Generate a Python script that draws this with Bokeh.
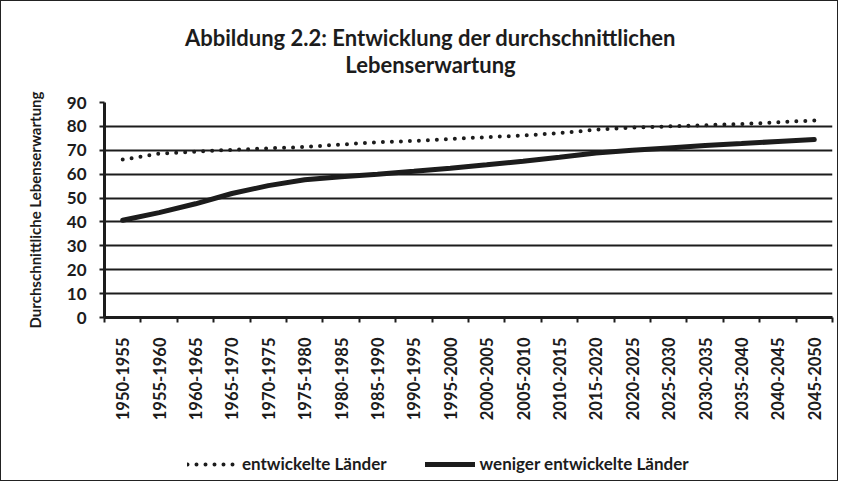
import math
from bokeh.plotting import figure
from bokeh.layouts import column
from bokeh.models import (FactorRange, Range1d, LinearAxis, FixedTicker, Label,
                          Legend, LegendItem, ColumnDataSource, CustomJSTickFormatter)
from bokeh.embed import file_html
from bokeh.resources import INLINE

categories = ["1950-1955", "1955-1960", "1960-1965", "1965-1970", "1970-1975",
              "1975-1980", "1980-1985", "1985-1990", "1990-1995", "1995-2000",
              "2000-2005", "2005-2010", "2010-2015", "2015-2020", "2020-2025",
              "2025-2030", "2030-2035", "2035-2040", "2040-2045", "2045-2050"]
entwickelt = [66.1, 68.6, 69.4, 70.2, 70.8, 71.4, 72.4, 73.4, 73.9, 74.7,
              75.5, 76.2, 77.2, 78.6, 79.5, 80.0, 80.5, 81.0, 81.7, 82.5]
weniger = [40.7, 43.9, 47.6, 51.9, 55.2, 57.7, 58.9, 60.0, 61.2, 62.5,
           63.9, 65.4, 67.1, 68.9, 70.0, 71.0, 72.0, 72.8, 73.7, 74.5]
y_ticks = [0, 10, 20, 30, 40, 50, 60, 70, 80, 90]
title_lines = ["Abbildung 2.2: Entwicklung der durchschnittlichen", "Lebenserwartung"]
y_title = "Durchschnittliche Lebenserwartung"
series_names = ["entwickelte Länder", "weniger entwickelte Länder"]

FONT = "Lato"
INK = "#1c1c1c"
W = 836

n = len(categories)
src = ColumnDataSource(dict(cat=categories, a=entwickelt, b=weniger))


def strip(height, x_range, y_range):
    f = figure(width=W, height=height, x_range=x_range, y_range=y_range,
               output_backend="svg", toolbar_location=None,
               x_axis_location=None, y_axis_location=None,
               min_border_left=0, min_border_right=0, min_border_top=0, min_border_bottom=0)
    f.outline_line_color = None
    f.xgrid.visible = False
    f.ygrid.visible = False
    return f


# ---- title strip (frame is aligned with the chart frame, which starts 103px in) ----
head = strip(80, Range1d(0, 1), Range1d(0, 1))
for txt, yy in zip(title_lines, [44, 17]):
    head.add_layout(Label(x=326, y=yy, x_units="screen", y_units="screen", text=txt,
                          text_align="center", text_baseline="middle",
                          text_font=FONT, text_font_style="bold", text_font_size="22px",
                          text_color=INK))

# ---- main chart ----
p = figure(width=W, height=350, x_range=FactorRange(*categories, range_padding=0),
           y_range=Range1d(0, 90), output_backend="svg", toolbar_location=None,
           x_axis_location=None, y_axis_location=None,
           min_border_left=103, min_border_right=5, min_border_top=21, min_border_bottom=114)
p.outline_line_color = None

x_ticker = FixedTicker(ticks=[i + 0.5 for i in range(n)], minor_ticks=list(range(n + 1)))
x_axis = LinearAxis(ticker=x_ticker,
                    formatter=CustomJSTickFormatter(args=dict(labels=categories),
                                                    code="return labels[Math.floor(tick)]"),
                    major_tick_out=0, major_tick_in=0,
                    minor_tick_out=5, minor_tick_in=0,
                    minor_tick_line_width=2, minor_tick_line_color=INK,
                    axis_line_width=3, axis_line_color=INK,
                    major_label_orientation=math.pi / 2,
                    major_label_standoff=15,
                    major_label_text_font=FONT, major_label_text_font_style="bold",
                    major_label_text_font_size="16.5px", major_label_text_color=INK)
p.add_layout(x_axis, "below")

y_axis = LinearAxis(ticker=FixedTicker(ticks=y_ticks),
                    axis_line_width=3, axis_line_color=INK,
                    major_tick_out=5, major_tick_in=0, major_tick_line_width=2,
                    major_tick_line_color=INK, minor_tick_line_color=None,
                    major_label_standoff=13,
                    major_label_text_font=FONT, major_label_text_font_style="bold",
                    major_label_text_font_size="17px", major_label_text_color=INK,
                    axis_label=y_title, axis_label_standoff=20,
                    axis_label_text_font=FONT, axis_label_text_font_style="bold",
                    axis_label_text_font_size="15px", axis_label_text_color=INK)
p.add_layout(y_axis, "left")

p.ygrid.ticker = FixedTicker(ticks=y_ticks)
p.ygrid.grid_line_color = INK
p.ygrid.grid_line_width = 2
p.xgrid.grid_line_color = None

style_a = dict(line_color=INK, line_width=4, line_dash="0 9", line_cap="round")
style_b = dict(line_color=INK, line_width=5, line_cap="round")
p.line("cat", "a", source=src, **style_a)
p.line("cat", "b", source=src, **style_b)

# ---- legend strip: same series re-drawn out of view, only their legend samples show ----
leg = strip(49, FactorRange(*categories, range_padding=0), Range1d(1000, 1001))
la = leg.line("cat", "a", source=src, **style_a)
lb = leg.line("cat", "b", source=src, **style_b)
legend = Legend(items=[LegendItem(label=series_names[0], renderers=[la]),
                       LegendItem(label=series_names[1], renderers=[lb])],
                orientation="horizontal", location=(83, 6),
                glyph_width=50, glyph_height=20, label_standoff=5, spacing=38,
                padding=0, margin=0, border_line_color=None, background_fill_alpha=0,
                label_text_font=FONT, label_text_font_style="bold",
                label_text_font_size="17px", label_text_color=INK)
leg.add_layout(legend, "center")

page = column(head, p, leg, spacing=0)
page.styles = {"border": "1px solid #222", "background-color": "white"}

open("out.html", "w").write(file_html(page, INLINE))
